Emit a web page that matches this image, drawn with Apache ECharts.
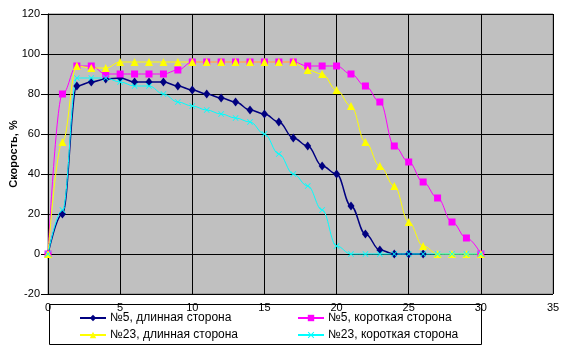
<!DOCTYPE html>
<html>
<head>
<meta charset="utf-8">
<script src="https://cdn.jsdelivr.net/npm/echarts@6/dist/echarts.min.js"></script>
<style>
html,body{margin:0;padding:0;background:#fff;}
#chart{width:565px;height:353px;}
</style>
</head>
<body>
<div id="chart"></div>
<script>
var xValues = [0,1,2,3,4,5,6,7,8,9,10,11,12,13,14,15,16,17,18,19,20,21,22,23,24,25,26,27,28,29,30];
var seriesNames = ['№5, длинная сторона','№5, короткая сторона','№23, длинная сторона','№23, короткая сторона'];
var long5  = [0,20,84,86,87.5,88,86,86,86,84,82,80,78,76,72,70,66,58,54,44,40,24,10,2,0,0,0];
var short5 = [0,80,94,94,90,90,90,90,90,92,96,96,96,96,96,96,96,96,94,94,94,90,84,76,54,46,36,28,16,8,0];
var long23 = [0,56,94,93,93,96,96,96,96,96,96,96,96,96,96,96,96,96,92,90,82,74,56,44,34,16,4,0,0,0,0];
var short23= [0,22,88,88,88,86,84,84,80,76,74,72,70,68,66,60,50,40,34,22,4,0,0,0,0,0,0,0,0,0,0];
var yTicks = [-20,0,20,40,60,80,100,120];
var xTicks = [0,5,10,15,20,25,30,35];

function pairs(vals){ return vals.map(function(v,i){ return [xValues[i], v]; }); }

var FONT = 'Liberation Sans, Arial, sans-serif';
var crossPath = 'path://M0,1L1,0L5,4L9,0L10,1L6,5L10,9L9,10L5,6L1,10L0,9L4,5Z';

var chart = echarts.init(document.getElementById('chart'), null, {renderer:'canvas'});
function mk(name, data, color, symbol, size, width){
  return {
    name: name, type: 'line', data: pairs(data),
    smooth: 0.4, smoothMonotone: 'x',
    symbol: symbol, symbolSize: size, showSymbol: true,
    lineStyle: {color: color, width: width},
    itemStyle: {color: color, borderWidth: 0},
    animation: false
  };
}
chart.setOption({
  animation: false,
  textStyle: {fontFamily: FONT},
  grid: {left: 48, right: 12, top: 14, bottom: 59, show: true, containLabel: false, outerBoundsMode: 'none',
         backgroundColor: '#C0C0C0', borderColor: '#808080', borderWidth: 1},
  xAxis: {
    type: 'value', min: xTicks[0], max: xTicks[xTicks.length-1], interval: 5,
    axisLine: {show: true, onZero: true, lineStyle: {color: '#000', width: 1}},
    axisTick: {show: false},
    axisLabel: {color: '#000', fontSize: 11, fontFamily: FONT, margin: 8},
    splitLine: {show: true, lineStyle: {color: '#000', width: 1}}
  },
  yAxis: {
    type: 'value', min: yTicks[0], max: yTicks[yTicks.length-1], interval: 20,
    name: 'Скорость, %', nameLocation: 'middle', nameGap: 29, nameMoveOverlap: false,
    nameTextStyle: {color: '#000', fontSize: 11, fontWeight: 'bold', fontFamily: FONT},
    axisLine: {show: true, onZero: false, lineStyle: {color: '#000', width: 1}},
    axisTick: {show: true, inside: false, length: 7, lineStyle: {color: '#000'}},
    axisLabel: {color: '#000', fontSize: 11, fontFamily: FONT, margin: 8},
    splitLine: {show: true, lineStyle: {color: '#000', width: 1}}
  },
  legend: [
    {data: [seriesNames[0], seriesNames[2]], orient: 'vertical', left: 74, top: 307,
     itemWidth: 26, itemHeight: 8, itemGap: 5,
     textStyle: {color: '#000', fontSize: 12, fontFamily: FONT, padding: [0,0,0,-1]}},
    {data: [seriesNames[1], seriesNames[3]], orient: 'vertical', left: 292, top: 307,
     itemWidth: 26, itemHeight: 8, itemGap: 5,
     textStyle: {color: '#000', fontSize: 12, fontFamily: FONT, padding: [0,0,0,-1]}}
  ],
  graphic: [{type: 'rect', shape: {x: 49.5, y: 304.5, width: 432, height: 40},
             style: {fill: 'none', stroke: '#000', lineWidth: 1}, z: -1}],
  series: [
    mk(seriesNames[0], long5, '#000080', 'diamond', [7,9], 1.5),
    mk(seriesNames[1], short5, '#FF00FF', 'rect', 7, 1),
    mk(seriesNames[2], long23, '#FFFF00', 'triangle', 8, 1),
    mk(seriesNames[3], short23, '#00FFFF', crossPath, 6, 1)
  ]
});
</script>
</body>
</html>
